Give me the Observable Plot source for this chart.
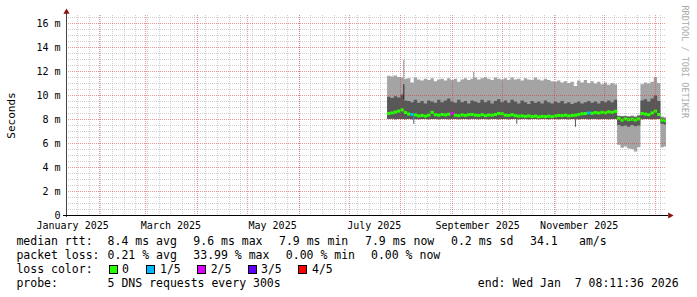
<!DOCTYPE html>
<html><head><meta charset="utf-8">
<script src="https://cdn.jsdelivr.net/npm/d3@7"></script>
<script src="https://cdn.jsdelivr.net/npm/@observablehq/plot@0.6"></script>
<style>
html,body{margin:0;padding:0;background:#fff;}
#wrap{position:relative;width:697px;height:297px;overflow:hidden;font-family:"DejaVu Sans Mono",monospace;background:#fff;}
#chart{position:absolute;left:0;top:0;}
.lg{position:absolute;font-size:11.5px;line-height:14px;white-space:pre;color:#000;}
.box{position:absolute;width:7px;height:7px;border:1px solid #000;}
</style></head><body>
<div id="wrap"><div id="chart"></div><div id="legend"></div></div>
<script>
// ---- time bins (2-day RRD consolidation) ----
const firstBin = "2025-07-24";
const binDays = 2;
// ping 1 (min) .. ping 5 (max), milliseconds
const minMs = [8.00,8.02,7.98,8.00,8.00,7.98,8.00,7.98,8.00,7.98,8.00,8.00,7.98,8.00,8.00,7.98,8.00,8.00,7.98,8.00,
  8.00,7.98,8.00,8.00,7.98,8.00,8.00,7.98,8.00,8.00,7.98,8.00,8.00,7.98,8.00,8.00,7.98,8.00,8.00,7.98,
  8.00,8.00,7.98,8.00,8.00,7.98,8.00,8.00,7.98,8.00,8.00,7.98,8.00,8.00,7.98,8.00,8.00,7.98,8.00,8.00,
  7.98,8.00,8.00,7.98,8.00,8.00,7.98,8.00,8.00,5.85,5.60,5.70,5.55,5.50,5.30,5.65,7.98,8.00,8.00,7.98,
  8.00,8.00,5.65,5.70];
const lowMs = [8.00,8.02,7.98,8.00,8.00,7.98,8.00,7.98,8.00,7.98,8.00,8.00,7.98,8.00,8.00,7.98,8.00,8.00,7.98,8.00,
  8.00,7.98,8.00,8.00,7.98,8.00,8.00,7.98,8.00,8.00,7.98,8.00,8.00,7.98,8.00,8.00,7.98,8.00,8.00,7.98,
  8.00,8.00,7.98,8.00,8.00,7.98,8.00,8.00,7.98,8.00,8.00,7.98,8.00,8.00,7.98,8.00,8.00,7.98,8.00,8.00,
  7.98,8.00,8.00,7.98,8.00,8.00,7.98,8.00,8.00,7.50,7.40,7.45,7.35,7.50,7.40,7.45,7.98,8.00,8.00,7.98,
  8.00,8.00,7.60,7.55];
const medianMs = [8.50,8.55,8.62,8.70,8.80,8.58,8.45,8.42,8.38,8.30,8.34,8.28,8.36,8.60,8.40,8.36,8.42,8.38,8.44,8.52,
  8.36,8.32,8.38,8.34,8.40,8.42,8.36,8.34,8.40,8.32,8.38,8.36,8.42,8.50,8.48,8.36,8.34,8.40,8.32,8.28,
  8.30,8.26,8.30,8.24,8.28,8.22,8.26,8.24,8.28,8.24,8.30,8.34,8.32,8.36,8.30,8.34,8.36,8.42,8.48,8.50,
  8.55,8.52,8.58,8.54,8.60,8.56,8.64,8.60,8.68,8.10,7.95,8.05,7.98,8.02,7.96,8.05,8.50,8.45,8.40,8.55,
  8.70,8.42,7.95,7.90];
const highMs = [9.85,9.75,9.90,9.80,10.05,9.55,9.50,9.40,9.60,9.35,9.50,9.30,9.55,9.45,9.35,9.60,9.40,9.55,9.70,9.45,
  9.35,9.60,9.40,9.50,9.30,9.55,9.45,9.35,9.60,9.40,9.55,9.30,9.50,9.65,9.40,9.55,9.35,9.60,9.45,9.30,
  9.55,9.40,9.25,9.50,9.35,9.45,9.30,9.55,9.40,9.30,9.45,9.35,9.50,9.30,9.40,9.25,9.35,9.45,9.30,9.40,
  9.50,9.35,9.45,9.30,9.50,9.40,9.55,9.40,9.60,8.25,8.20,8.22,8.18,8.20,8.15,8.25,9.55,9.65,9.45,9.70,
  9.95,9.50,8.10,8.05];
const maxMs = [11.60,11.55,11.62,11.50,11.45,11.35,11.40,11.05,11.45,11.30,11.20,11.35,11.25,11.40,11.15,11.30,11.35,11.20,11.40,11.25,
  11.35,11.10,11.30,11.40,11.25,11.35,11.45,11.30,11.40,11.50,11.35,11.25,11.45,11.35,11.30,11.40,11.25,11.45,11.30,11.35,
  11.20,11.40,11.30,11.25,11.45,11.30,11.20,11.35,11.25,11.15,11.10,11.20,11.05,11.15,11.00,11.10,10.75,11.20,11.05,11.25,
  11.00,11.15,10.95,11.10,10.90,11.05,10.85,11.00,10.90,8.30,8.25,8.28,8.22,8.30,8.22,8.35,10.90,11.05,10.95,11.10,
  11.50,11.00,8.20,8.15];
// lost pings per bin (of 5)
const lossCount = [0,0,0,0,0,0,0,1,0,0,0,0,0,0,0,0,0,0,0,2,
  0,0,0,0,0,0,0,0,0,0,0,0,0,0,0,0,0,0,0,0,
  0,0,0,0,0,0,0,0,0,0,0,0,0,0,0,0,0,0,0,0,
  1,0,0,0,0,0,0,0,0,0,0,0,0,0,0,0,0,0,0,0,
  0,0,0,0];
// single-sample outliers
const spikeTimes = ["2025-08-02T18:00:00Z","2025-08-02T18:00:00Z","2025-09-13T17:00:00Z","2025-08-08T17:00:00Z","2025-08-08T17:00:00Z","2025-10-09T12:00:00Z","2025-11-13T17:00:00Z"];
const spikeLow  = [11.40, 9.60, 11.30, 7.60, 7.95, 7.60, 7.35];
const spikeHigh = [12.95, 10.90, 11.92, 8.00, 8.15, 8.00, 8.00];
const spikeKind = ["max","high","max","low","loss1","low","low"];

const yTicks = [0,2,4,6,8,10,12,14,16];
const xLabelDates = ["2025-01-16","2025-03-16","2025-05-16","2025-07-16","2025-09-16","2025-11-16"];
const lossLabels = ["0","1/5","2/5","3/5","4/5"];
const lossColors = ["#26ff00","#00b8ff","#dd00ff","#5e00ff","#ff0000"];
const rttStats = ["8.4 ms avg","9.6 ms max","7.9 ms min","7.9 ms now","0.2 ms sd","34.1","am/s"];
const lossStats = ["0.21 % avg","33.99 % max","0.00 % min","0.00 % now"];
const probeText = "5 DNS requests every 300s";
const endText = "end: Wed Jan  7 08:11:36 2026";

// ---- build tables ----
const DAY = 864e5;
const t0 = new Date(Date.UTC(2025,0,12,8,11,36));
const t1 = new Date(Date.UTC(2026,0,7,8,11,36));
const b0 = Date.parse(firstBin + "T00:00:00Z");
const bins = medianMs.map((m,i) => {
  const s = b0 + i*binDays*DAY;
  return {start:new Date(s), end:new Date(Math.min(s+binDays*DAY, +t1)),
    p1:minMs[i], p2:lowMs[i], med:m, p4:highMs[i], p5:maxMs[i], loss:lossCount[i]};
});
const area = bins.map(b => ({t:b.start, p1:b.p1, p2:b.p2, p4:b.p4, p5:b.p5}));
const last = bins[bins.length-1];
area.push({t:last.end, p1:last.p1, p2:last.p2, p4:last.p4, p5:last.p5});
const kindColor = {max:"#8e8e8e", high:"#222222", low:"#585858", loss1:"#00b8ff"};
const spikes = spikeTimes.map((t,i) => ({t:new Date(t), lo:spikeLow[i], hi:spikeHigh[i], c:kindColor[spikeKind[i]]}));

const minorY = d3.range(0.5, 16.6, 0.5).filter(v => v % 2 !== 0);
const majorY = yTicks.filter(v => v > 0);
const minorX = d3.utcSunday.range(t0, t1);
const majorX = d3.utcMonth.range(t0, t1);

const minorStroke = "rgba(160,160,160,0.5)";
const majorStroke = "rgba(225,40,40,0.5)";

const plot = Plot.plot({
  width: 697, height: 234,
  marginLeft: 66, marginRight: 31, marginTop: 15, marginBottom: 19,
  x: {type: "utc", domain: [t0, t1], axis: null},
  y: {domain: [0, 16.6667], axis: null},
  style: {fontFamily: "DejaVu Sans Mono", fontSize: "10px", background: "#fff", color: "#000", overflow: "visible"},
  marks: [
    Plot.ruleY(minorY, {stroke: minorStroke, strokeDasharray: "1,1", shapeRendering: "crispEdges"}),
    Plot.ruleX(minorX, {stroke: minorStroke, strokeDasharray: "1,1", shapeRendering: "crispEdges"}),
    Plot.areaY(area, {x: "t", y1: "p1", y2: "p5", curve: "step-after", fill: "#a4a4a4"}),
    Plot.areaY(area, {x: "t", y1: "p2", y2: "p4", curve: "step-after", fill: "#585858"}),
    Plot.ruleX(spikes, {x: "t", y1: "lo", y2: "hi", stroke: "c", strokeWidth: 1}),
    Plot.ruleY(bins, {y: "med", x1: "start", x2: "end", stroke: d => lossColors[d.loss], strokeWidth: 3}),
    Plot.ruleY(majorY, {stroke: majorStroke, strokeDasharray: "1,1", shapeRendering: "crispEdges"}),
    Plot.ruleX(majorX, {stroke: majorStroke, strokeDasharray: "1,1", shapeRendering: "crispEdges"}),
    Plot.ruleX([t0], {stroke: "#444", insetTop: -3, insetBottom: -2, shapeRendering: "crispEdges"}),
    Plot.ruleY([0], {stroke: "#000", insetLeft: -3, insetRight: -2, shapeRendering: "crispEdges"}),
    Plot.dot([t0], {x: d => d, y: () => 16.6667, symbol: "triangle", r: 2.3, fill: "#8b1010", stroke: "none", dy: -3.5}),
    Plot.dot([t1], {x: d => d, y: () => 0, symbol: "triangle", r: 2.3, fill: "#8b1010", stroke: "none", rotate: 90, dx: 3.5}),
    Plot.axisY(yTicks, {tickSize: 0, tickPadding: 6, tickFormat: d => d === 0 ? "0" : d + " m", fontSize: 10, label: null}),
    Plot.axisX(xLabelDates.map(d => new Date(d + "T00:00:00Z")), {tickSize: 0, tickPadding: 6, tickFormat: d3.utcFormat("%B %Y"), fontSize: 10, label: null}),
    Plot.text(["Seconds"], {frameAnchor: "left", dx: -55.5, rotate: -90, fontSize: 11, textAnchor: "middle", fill: "#000"}),
    Plot.text(["RRDTOOL / TOBI OETIKER"], {frameAnchor: "top-right", dx: 21.5, dy: -10, rotate: 90, textAnchor: "start", fontSize: 8.5, fill: "#aaaaaa"})
  ]
});
document.getElementById("chart").appendChild(plot);

// ---- legend (below the SVG) ----
const lg = document.getElementById("legend");
function put(text, left, cy) {
  const s = document.createElement("div");
  s.className = "lg"; s.textContent = text;
  s.style.left = left + "px"; s.style.top = (cy - 7.3) + "px";
  lg.appendChild(s);
}
const r1 = 241.5, r2 = 255.3, r3 = 269.3, r4 = 283.5;
put("median rtt:", 16.4, r1);
[107.6,193.3,279,365,451,530,579].forEach((x,i) => put(rttStats[i], x, r1));
put("packet loss:", 16.4, r2);
[107.6,193.3,285.8,371].forEach((x,i) => put(lossStats[i], x, r2));
put("loss color:", 16.4, r3);
const boxX = [109,146,197,248,298], labX = [122,160,210.7,261,312];
lossLabels.forEach((l,i) => {
  const b = document.createElement("div");
  b.className = "box"; b.style.left = boxX[i] + "px"; b.style.top = "265px";
  b.style.background = lossColors[i];
  lg.appendChild(b);
  put(l, labX[i], r3);
});
put("probe:", 16.4, r4);
put(probeText, 107.6, r4);
put(endText, 477.8, r4);
</script>
</body></html>
